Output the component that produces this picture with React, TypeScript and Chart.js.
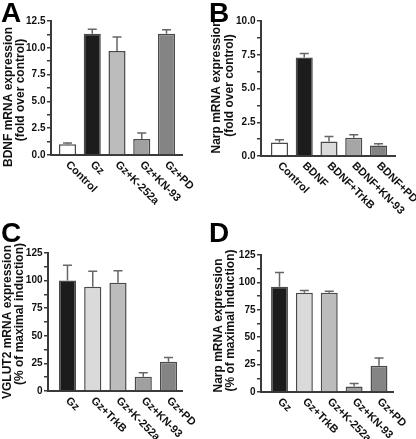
import React, { useEffect, useRef } from "react";
import { Chart, registerables } from "chart.js";

Chart.register(...registerables);

const FONT = "'Liberation Sans', Arial, Helvetica, sans-serif";

// ---------- Panel A ----------
const aCategories = ["Control", "Gz", "Gz+K-252a", "Gz+KN-93", "Gz+PD"];
const aValues = [1.0, 11.3, 9.7, 1.5, 11.3];
const aErrors = [0.13, 0.42, 1.3, 0.56, 0.38];
const aColors = ["#ffffff", "#1c1c1c", "#bcbcbc", "#a0a0a0", "#848484"];
const aTitle = ["BDNF mRNA expression", "(fold over control)"];

// ---------- Panel B ----------
const bCategories = ["Control", "BDNF", "BDNF+TrkB", "BDNF+KN-93", "BDNF+PD"];
const bValues = [1.0, 7.3, 1.08, 1.35, 0.78];
const bErrors = [0.21, 0.3, 0.37, 0.23, 0.13];
const bColors = ["#ffffff", "#1c1c1c", "#dadada", "#a6a6a6", "#848484"];
const bTitle = ["Narp mRNA expression", "(fold over control)"];

// ---------- Panel C ----------
const cCategories = ["Gz", "Gz+TrkB", "Gz+K-252a", "Gz+KN-93", "Gz+PD"];
const cValues = [100, 94.5, 98, 13, 26.5];
const cErrors = [14, 14, 11, 3.6, 3.9];
const cColors = ["#1c1c1c", "#dadada", "#bcbcbc", "#a0a0a0", "#848484"];
const cTitle = ["VGLUT2 mRNA expression", "(% of maximal induction)"];

// ---------- Panel D ----------
const dCategories = ["Gz", "Gz+TrkB", "Gz+K-252a", "Gz+KN-93", "Gz+PD"];
const dValues = [96, 90.5, 90.5, 5, 24];
const dErrors = [13, 2.1, 1.5, 2.7, 7];
const dColors = ["#1c1c1c", "#dadada", "#bcbcbc", "#a0a0a0", "#848484"];
const dTitle = ["Narp mRNA expression", "(% of maximal induction)"];

// y-axis tick settings
const foldMinorStep = 1.25;
const foldMajorStep = 2.5;
const pctMinorStep = 12.5;
const pctMajorStep = 25;

type PanelProps = {
  left: number;
  top: number;
  width: number;
  height: number;
  letter: string;
  categories: string[];
  values: number[];
  errors: number[];
  colors: string[];
  title: string[];
  yMax: number;
  minorStep: number;
  majorStep: number;
  decimals: number;
  yAxisWidth: number;
  padTop: number;
  xAxisHeight: number;
  padRight: number;
  xMin: number;
  xMax: number;
  barPct: number;
  titleX: number[];
  titleShift: number[];
};

function Panel(p: PanelProps) {
  const ref = useRef<HTMLCanvasElement>(null);

  useEffect(() => {
    const canvas = ref.current;
    if (!canvas) return;

    const errorBars = {
      id: "errorBars",
      afterDatasetsDraw(chart: any) {
        const { ctx } = chart;
        const meta = chart.getDatasetMeta(0);
        const y = chart.scales.y;
        ctx.save();
        ctx.strokeStyle = "#666666";
        ctx.lineWidth = 1.5;
        meta.data.forEach((bar: any, i: number) => {
          const v = p.values[i];
          const top = y.getPixelForValue(v + p.errors[i]);
          ctx.beginPath();
          ctx.moveTo(bar.x, bar.y);
          ctx.lineTo(bar.x, top);
          ctx.moveTo(bar.x - 4.5, top);
          ctx.lineTo(bar.x + 4.5, top);
          ctx.stroke();
        });
        ctx.restore();
      },
    };

    const xLabels = {
      id: "xLabels",
      afterDraw(chart: any) {
        const { ctx, chartArea } = chart;
        const x = chart.scales.x;
        ctx.save();
        ctx.font = `bold 11px ${FONT}`;
        ctx.fillStyle = "#111111";
        ctx.textAlign = "left";
        ctx.textBaseline = "middle";
        p.categories.forEach((c, i) => {
          const px = x.getPixelForValue(i);
          ctx.save();
          ctx.translate(px, chartArea.bottom + 8);
          ctx.rotate(Math.PI / 4);
          ctx.fillText(c, 0, 0);
          ctx.restore();
        });
        ctx.restore();
      },
    };

    const yTitle = {
      id: "yTitle",
      afterDraw(chart: any) {
        const { ctx, chartArea } = chart;
        const cy = (chartArea.top + chartArea.bottom) / 2;
        ctx.save();
        ctx.font = `bold 12px ${FONT}`;
        ctx.fillStyle = "#111111";
        ctx.textAlign = "center";
        ctx.textBaseline = "middle";
        p.title.forEach((t, i) => {
          ctx.save();
          ctx.translate(p.titleX[i], cy + p.titleShift[i]);
          ctx.rotate(-Math.PI / 2);
          ctx.fillText(t, 0, 0);
          ctx.restore();
        });
        ctx.restore();
      },
    };

    const isMajor = (v: number) =>
      Math.abs(v / p.majorStep - Math.round(v / p.majorStep)) < 1e-6;

    const chart = new Chart(canvas, {
      type: "bar",
      data: {
        datasets: [
          {
            data: p.values.map((v, i) => ({ x: i, y: v })),
            backgroundColor: p.colors,
            borderColor: "#4a4a4a",
            borderWidth: 1.5,
            barPercentage: p.barPct,
            categoryPercentage: 1,
          },
        ],
      },
      options: {
        responsive: false,
        animation: false,
        events: [],
        layout: {
          padding: { top: p.padTop, right: p.padRight, left: 0, bottom: 0 },
        },
        plugins: {
          legend: { display: false },
          tooltip: { enabled: false },
        },
        scales: {
          x: {
            type: "linear",
            min: p.xMin,
            max: p.xMax,
            offset: false,
            ticks: { display: false },
            grid: { display: false, offset: false },
            border: { display: true, color: "#3a3a3a", width: 2 },
            afterFit: (s: any) => {
              s.height = p.xAxisHeight;
            },
          },
          y: {
            min: 0,
            max: p.yMax,
            ticks: {
              stepSize: p.minorStep,
              autoSkip: false,
              padding: 1.5,
              color: "#111111",
              font: { family: FONT, size: 10, weight: "bold" },
              callback: (v: any) =>
                isMajor(Number(v)) ? Number(v).toFixed(p.decimals) : "",
            },
            grid: {
              display: true,
              drawOnChartArea: false,
              drawTicks: true,
              tickLength: 4,
              color: "#3a3a3a",
              lineWidth: 1.5,
            },
            border: { display: true, color: "#3a3a3a", width: 2 },
            title: { display: false },
            afterFit: (s: any) => {
              s.width = p.yAxisWidth;
            },
          },
        },
      } as any,
      plugins: [errorBars, xLabels, yTitle],
    });

    return () => chart.destroy();
  }, []);

  return (
    <div
      style={{
        position: "absolute",
        left: p.left,
        top: p.top,
        width: p.width,
        height: p.height,
      }}
    >
      <canvas
        ref={ref}
        width={p.width}
        height={p.height}
        style={{ display: "block", width: p.width, height: p.height }}
      />
      <div
        style={{
          position: "absolute",
          left: 1,
          top: 0,
          fontFamily: FONT,
          fontWeight: "bold",
          fontSize: 28,
          lineHeight: "26px",
          color: "#000",
        }}
      >
        {p.letter}
      </div>
    </div>
  );
}

export default function App() {
  return (
    <div
      style={{
        position: "fixed",
        left: 0,
        top: 0,
        width: 416,
        height: 439,
        background: "#ffffff",
      }}
    >
      <Panel
        left={0}
        top={0}
        width={208}
        height={220}
        letter="A"
        categories={aCategories}
        values={aValues}
        errors={aErrors}
        colors={aColors}
        title={aTitle}
        yMax={12.5}
        minorStep={foldMinorStep}
        majorStep={foldMajorStep}
        decimals={1}
        yAxisWidth={51}
        padTop={21}
        xAxisHeight={65}
        padRight={26}
        xMin={-0.667}
        xMax={4.626}
        barPct={0.69}
        titleX={[8.5, 20.5]}
        titleShift={[9, 2]}
      />
      <Panel
        left={208}
        top={0}
        width={208}
        height={220}
        letter="B"
        categories={bCategories}
        values={bValues}
        errors={bErrors}
        colors={bColors}
        title={bTitle}
        yMax={10}
        minorStep={foldMinorStep}
        majorStep={foldMajorStep}
        decimals={1}
        yAxisWidth={53}
        padTop={21}
        xAxisHeight={64}
        padRight={21}
        xMin={-0.747}
        xMax={4.667}
        barPct={0.69}
        titleX={[9, 21.5]}
        titleShift={[-2, -3]}
      />
      <Panel
        left={0}
        top={220}
        width={208}
        height={219}
        letter="C"
        categories={cCategories}
        values={cValues}
        errors={cErrors}
        colors={cColors}
        title={cTitle}
        yMax={125}
        minorStep={pctMinorStep}
        majorStep={pctMajorStep}
        decimals={0}
        yAxisWidth={48}
        padTop={33}
        xAxisHeight={48}
        padRight={26}
        xMin={-0.772}
        xMax={4.535}
        barPct={0.68}
        titleX={[7.5, 19.5]}
        titleShift={[0, -8]}
      />
      <Panel
        left={208}
        top={220}
        width={208}
        height={219}
        letter="D"
        categories={dCategories}
        values={dValues}
        errors={dErrors}
        colors={dColors}
        title={dTitle}
        yMax={125}
        minorStep={pctMinorStep}
        majorStep={pctMajorStep}
        decimals={0}
        yAxisWidth={53}
        padTop={35}
        xAxisHeight={47}
        padRight={23}
        xMin={-0.744}
        xMax={4.563}
        barPct={0.68}
        titleX={[10.5, 23]}
        titleShift={[2, -3]}
      />
    </div>
  );
}
